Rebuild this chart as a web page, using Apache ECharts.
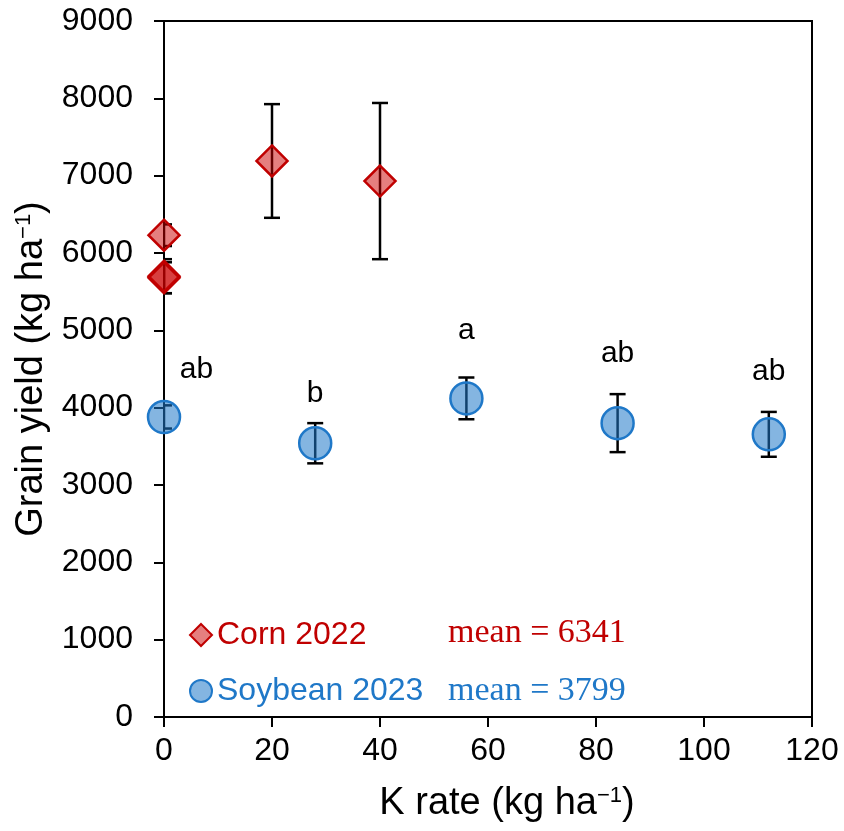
<!DOCTYPE html>
<html>
<head>
<meta charset="utf-8">
<script src="https://cdn.jsdelivr.net/npm/echarts@6/dist/echarts.min.js"></script>
<style>html,body{margin:0;padding:0;background:#fff}#c{width:844px;height:831px}</style>
</head>
<body>
<div id="c"></div>
<script>
// ---- data ----
const cornX   = [0, 0, 0, 20, 40];
const cornY   = [6230, 5700, 5680, 7190, 6930];
const cornErr = [140, 220, 200, 735, 1010];

const soyX    = [0, 28, 56, 84, 112];
const soyY    = [3880, 3540, 4120, 3800, 3655];
const soyErr  = [150, 260, 270, 375, 290];

const letterText = ['ab', 'b', 'a', 'ab', 'ab'];
const letterX    = [6, 28, 56, 84, 112];
const letterY    = [4490, 4180, 4990, 4700, 4460];

const yTicks = [0, 9000, 1000];
const xTicks = [0, 120, 20];
const cornMean = 6341;
const soyMean = 3799;

const RED = '#c00000';
const BLUE = '#1f78c8';
const FONT = "'Liberation Sans', Arial, sans-serif";

function pts(xs, ys) { return xs.map((x, i) => [x, ys[i]]); }
function errs(xs, ys, es) { return xs.map((x, i) => [x, ys[i] - es[i], ys[i] + es[i]]); }

function renderErr(params, api) {
  const x = api.value(0), lo = api.value(1), hi = api.value(2);
  const pHi = api.coord([x, hi]), pLo = api.coord([x, lo]);
  const hw = 8;
  const style = { stroke: '#000', lineWidth: 2.5 };
  return {
    type: 'group',
    children: [
      { type: 'line', shape: { x1: pHi[0], y1: pHi[1], x2: pLo[0], y2: pLo[1] }, style },
      { type: 'line', shape: { x1: pHi[0] - hw, y1: pHi[1], x2: pHi[0] + hw, y2: pHi[1] }, style },
      { type: 'line', shape: { x1: pLo[0] - hw, y1: pLo[1], x2: pLo[0] + hw, y2: pLo[1] }, style }
    ]
  };
}

const chart = echarts.init(document.getElementById('c'), null, { renderer: 'canvas' });
chart.setOption({
  animation: false,
  backgroundColor: '#fff',
  textStyle: { fontFamily: FONT },
  grid: { left: 164, right: 32, top: 21, bottom: 114, show: true, borderColor: '#000', borderWidth: 2, backgroundColor: 'transparent' },
  xAxis: {
    type: 'value', min: xTicks[0], max: xTicks[1], interval: xTicks[2],
    name: '{n|K rate (kg ha}{s|−1}{n|)}',
    nameLocation: 'middle', nameGap: 68,
    nameTextStyle: { padding: [0, 0, 0, 38], rich: { n: { fontSize: 38, fontFamily: FONT, color: '#000' }, s: { fontSize: 22, fontFamily: FONT, color: '#000', verticalAlign: 'top' } } },
    axisLine: { onZero: false, lineStyle: { color: '#000', width: 2 } },
    axisTick: { show: true, inside: false, length: 10, lineStyle: { color: '#000', width: 2 } },
    axisLabel: { fontSize: 32, color: '#000', margin: 18, fontFamily: FONT, formatter: v => String(v) },
    splitLine: { show: false }
  },
  yAxis: {
    type: 'value', min: yTicks[0], max: yTicks[1], interval: yTicks[2],
    name: '{n|Grain yield (kg ha}{s|−1}{n|)}',
    nameLocation: 'middle', nameGap: 104, nameRotate: 90,
    nameTextStyle: { rich: { n: { fontSize: 38, fontFamily: FONT, color: '#000' }, s: { fontSize: 22, fontFamily: FONT, color: '#000', verticalAlign: 'top' } } },
    axisLine: { onZero: false, lineStyle: { color: '#000', width: 2 } },
    axisTick: { show: true, inside: false, length: 10, lineStyle: { color: '#000', width: 2 } },
    axisLabel: { fontSize: 32, color: '#000', margin: 31, fontFamily: FONT, formatter: v => String(v) },
    splitLine: { show: false }
  },
  legend: {
    orient: 'vertical', left: 184, top: 614, itemWidth: 22, itemHeight: 22, itemGap: 24,
    selectedMode: false,
    data: [
      { name: 'Corn 2022', textStyle: { color: RED } },
      { name: 'Soybean 2023', textStyle: { color: BLUE } }
    ],
    textStyle: { fontSize: 32, fontFamily: FONT }
  },
  graphic: [
    { type: 'text', left: 448, top: 632 - 16, style: { text: 'mean = ' + cornMean, fill: RED, font: "34px 'Liberation Serif', 'Times New Roman', serif" } },
    { type: 'text', left: 448, top: 690 - 16, style: { text: 'mean = ' + soyMean, fill: BLUE, font: "34px 'Liberation Serif', 'Times New Roman', serif" } }
  ],
  series: [
    { type: 'custom', name: 'cornErr', renderItem: renderErr, data: errs(cornX, cornY, cornErr), clip: true, z: 2, encode: { x: 0, y: [1, 2] } },
    { type: 'custom', name: 'soyErr', renderItem: renderErr, data: errs(soyX, soyY, soyErr), clip: true, z: 2, encode: { x: 0, y: [1, 2] } },
    {
      type: 'scatter', name: 'Corn 2022', symbol: 'diamond', symbolSize: 31, z: 3,
      data: pts(cornX, cornY), clip: false,
      itemStyle: { color: 'rgba(204,0,0,0.5)', borderColor: RED, borderWidth: 2.5, opacity: 1 }
    },
    {
      type: 'scatter', name: 'Soybean 2023', symbol: 'circle', symbolSize: 32, z: 3,
      data: pts(soyX, soyY), clip: false,
      itemStyle: { color: 'rgba(31,120,200,0.55)', borderColor: BLUE, borderWidth: 2.5, opacity: 1 }
    },
    {
      type: 'scatter', name: 'letters', symbolSize: 1, z: 4, silent: true,
      itemStyle: { color: 'transparent' },
      data: letterX.map((x, i) => ({ value: [x, letterY[i]], name: letterText[i] })),
      label: { show: true, position: 'inside', formatter: p => p.name, fontSize: 30, color: '#000', opacity: 1, textBorderWidth: 0, fontFamily: FONT }
    }
  ]
});
</script>
</body>
</html>
